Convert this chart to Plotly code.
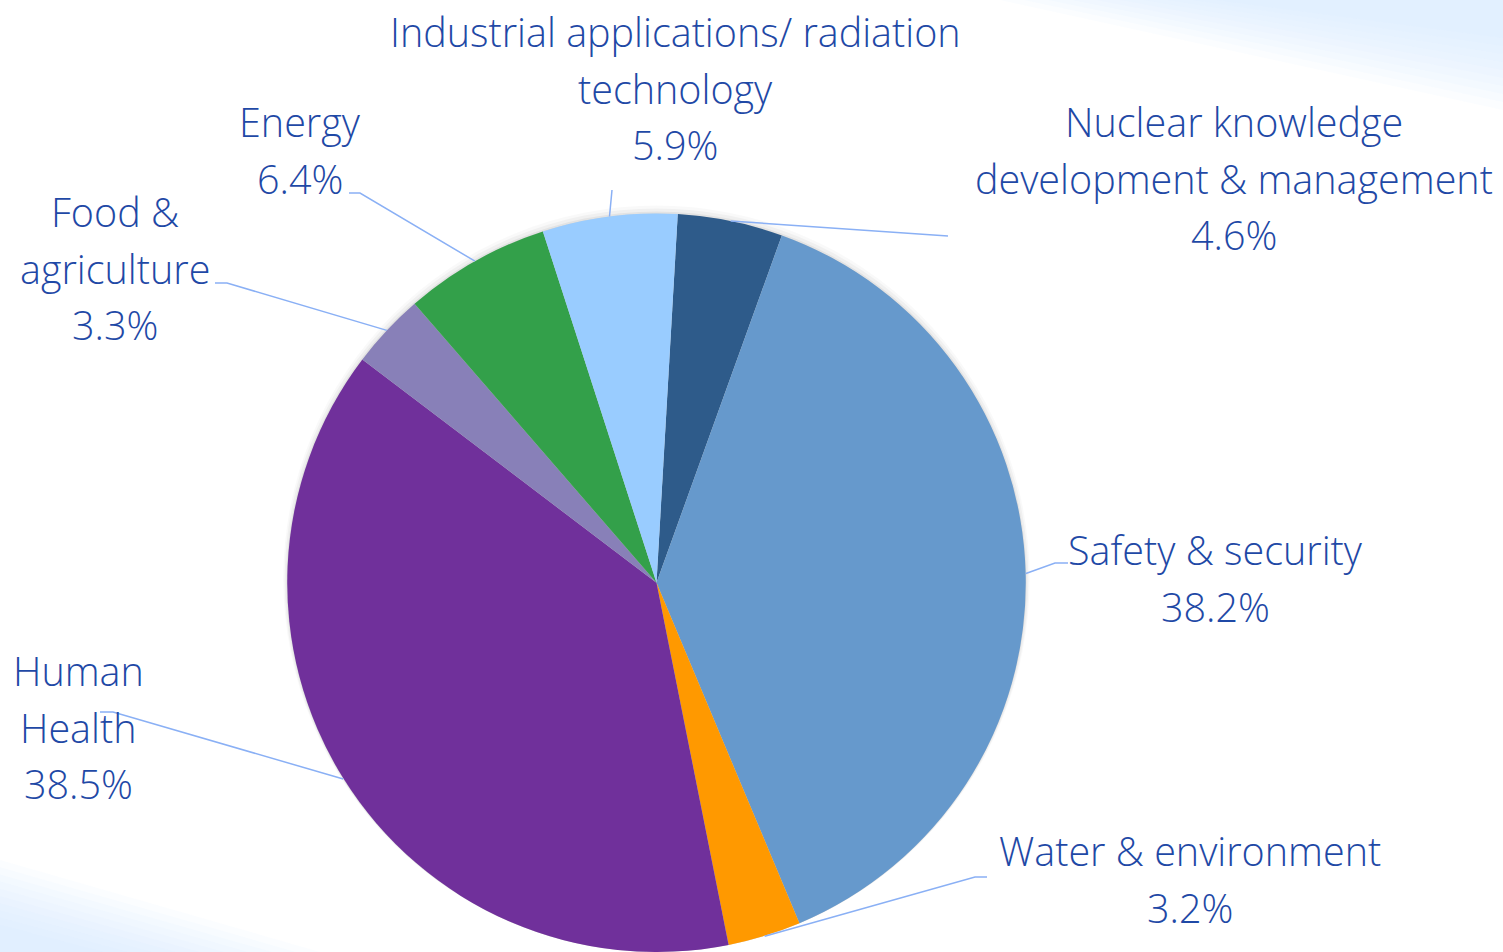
import numpy as np
import plotly.graph_objects as go

# ---- data ----
categories = ["Nuclear knowledge development & management", "Safety & security",
              "Water & environment", "Human Health", "Food & agriculture",
              "Energy", "Industrial applications/ radiation technology"]
values = [4.6, 38.2, 3.2, 38.5, 3.3, 6.4, 5.9]
label_lines = [
    ["Nuclear knowledge", "development & management"],
    ["Safety & security"],
    ["Water & environment"],
    ["Human", "Health"],
    ["Food &", "agriculture"],
    ["Energy"],
    ["Industrial applications/ radiation", "technology"],
]
colors = ["#2E5B8A", "#6699CC", "#FF9900", "#70309B", "#8880B8", "#33A04A", "#99CCFF"]

# ---- layout constants (pixels, in page coordinates) ----
W, H = 1503, 952
CX, CY, R = 656.5, 583.0, 369.5
ROT = 3.3
TEXT_COLOR = "#1F49A6"
LINE_COLOR = "#8AB0F5"
FONT = "Open Sans"
FS = 39.5
LH = 56.5
# label center x, first line center y, elbow point, end point
label_pos = [
    (1234, 122, None, (948, 236)),
    (1215, 550, (1055, 563), (1068, 563)),
    (1190, 851, (975, 877), (987, 877)),
    (78, 671, (113, 712), (100, 712)),
    (115, 212, (227, 283), (215, 283)),
    (300, 122, (360, 193), (349, 193)),
    (675, 32, None, (612, 190)),
]

def px(x):
    return x / W

def py(y):
    return 1 - y / H

fig = go.Figure()

# soft shadow rings
for k, a in [(10, 0.025), (7, 0.035), (4, 0.05), (2, 0.07)]:
    rr = R + k
    fig.add_trace(go.Pie(
        values=[1], marker=dict(colors=[f"rgba(0,0,0,{a})"], line=dict(width=0)),
        textinfo="none", hoverinfo="skip", showlegend=False, sort=False,
        domain=dict(x=[px(CX - rr), px(CX + rr)], y=[max(0, py(CY + rr + 2)), py(CY - rr + 2)]),
    ))

fig.add_trace(go.Pie(
    labels=categories, values=values, sort=False, direction="clockwise", rotation=ROT,
    marker=dict(colors=colors, line=dict(width=0)),
    textinfo="none", showlegend=False,
    domain=dict(x=[px(CX - R), px(CX + R)], y=[max(0, py(CY + R)), py(CY - R)]),
))

vals = np.array(values, dtype=float)
frac = vals / vals.sum()
starts = ROT + 360 * np.concatenate([[0], np.cumsum(frac)[:-1]])
mids = starts + 360 * frac / 2

shapes = []
annotations = []

# faint background tint in the corners
def poly(pts, fill):
    path = "M " + " L ".join(f"{px(x)},{py(y)}" for x, y in pts) + " Z"
    return dict(type="path", path=path, xref="paper", yref="paper", layer="below",
                fillcolor=fill, line=dict(width=0))

for k in range(10):
    d = k * 8
    shapes.append(poly([(1000 + d * 3, 0), (W, 0), (W, 110 - d)], "rgba(215,232,252,0.10)"))
    shapes.append(poly([(0, 860 + d * 0.9), (0, H), (320 - d * 3, H)], "rgba(215,232,252,0.09)"))

for i, (lines, v) in enumerate(zip(label_lines, values)):
    th = np.deg2rad(mids[i])
    ax, ay = CX + R * np.sin(th), CY - R * np.cos(th)
    lx, ly, elbow, end = label_pos[i]
    pts = [(ax, ay)] + ([elbow] if elbow else []) + [end]
    path = "M " + " L ".join(f"{px(x)},{py(y)}" for x, y in pts)
    shapes.append(dict(type="path", path=path, xref="paper", yref="paper",
                       line=dict(color=LINE_COLOR, width=1.5)))
    all_lines = lines + [f"{v:.1f}%"]
    for j, t in enumerate(all_lines):
        annotations.append(dict(
            text=t, x=px(lx), y=py(ly + j * LH), xref="paper", yref="paper",
            xanchor="center", yanchor="middle", showarrow=False, borderpad=0,
            font=dict(family=FONT, size=FS, color=TEXT_COLOR, weight=300),
        ))

fig.update_layout(
    width=W, height=H, margin=dict(l=0, r=0, t=0, b=0),
    paper_bgcolor="white", plot_bgcolor="white",
    shapes=shapes, annotations=annotations,
)
fig.write_html("out.html", config={"displayModeBar": False},
               post_script="document.body.style.margin='0';")
